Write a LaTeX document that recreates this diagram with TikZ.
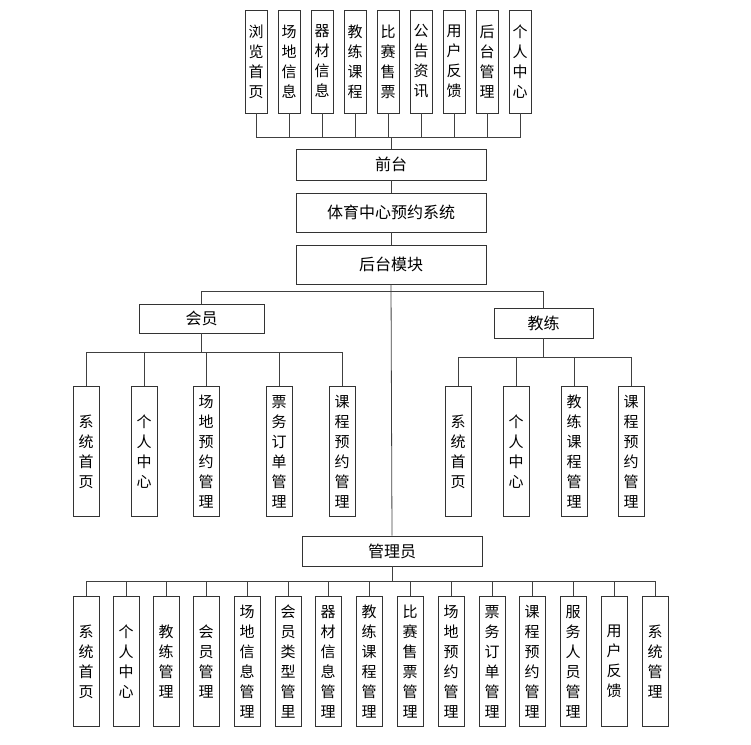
\documentclass[tikz,border=0pt]{standalone}
\usepackage{fontspec}
\newfontfamily\cjk{Noto Sans CJK SC}

\tikzset{
  colbox/.style={draw=black!80, line width=0.9pt, minimum width=26, minimum height=130,
    inner sep=0pt, align=center, font=\cjk\fontsize{15}{20}\selectfont},
  topbox/.style={colbox, minimum width=22, minimum height=103},
  rowbox/.style={draw=black!80, line width=0.9pt, inner sep=0pt,
    font=\cjk\fontsize{16}{20}\selectfont},
  link/.style={draw=black!75, line width=0.8pt}
}

\begin{document}
\begin{tikzpicture}[x=1pt, y=-1pt]
      \useasboundingbox (0,0) rectangle (751,744);

      % front modules
      \node[topbox] (T1) at (256,61.5) {浏\\览\\首\\页};
      \node[topbox] (T2) at (289,61.5) {场\\地\\信\\息};
      \node[topbox] (T3) at (322,61.5) {器\\材\\信\\息};
      \node[topbox] (T4) at (355,61.5) {教\\练\\课\\程};
      \node[topbox] (T5) at (388,61.5) {比\\赛\\售\\票};
      \node[topbox] (T6) at (421,61.5) {公\\告\\资\\讯};
      \node[topbox] (T7) at (454,61.5) {用\\户\\反\\馈};
      \node[topbox] (T8) at (487,61.5) {后\\台\\管\\理};
      \node[topbox] (T9) at (520,61.5) {个\\人\\中\\心};

      \node[rowbox, minimum width=190, minimum height=31] (F) at (391,164.5) {前台};
      \node[rowbox, minimum width=190, minimum height=39] (S) at (391,212.5) {体育中心预约系统};
      \node[rowbox, minimum width=190, minimum height=39] (B) at (391,264.5) {后台模块};

      % roles
      \node[rowbox, minimum width=125, minimum height=29] (M) at (201.5,318.5) {会员};
      \node[rowbox, minimum width=99, minimum height=30] (C) at (543.5,323) {教练};
      \node[rowbox, minimum width=180, minimum height=30] (A) at (392,551) {管理员};

      % member
      \node[colbox] (M1) at (86,451.5) {系\\统\\首\\页};
      \node[colbox] (M2) at (144,451.5) {个\\人\\中\\心};
      \node[colbox] (M3) at (206,451.5) {场\\地\\预\\约\\管\\理};
      \node[colbox] (M4) at (279,451.5) {票\\务\\订\\单\\管\\理};
      \node[colbox] (M5) at (342,451.5) {课\\程\\预\\约\\管\\理};

      % coach
      \node[colbox] (C1) at (458,451.5) {系\\统\\首\\页};
      \node[colbox] (C2) at (516,451.5) {个\\人\\中\\心};
      \node[colbox] (C3) at (574,451.5) {教\\练\\课\\程\\管\\理};
      \node[colbox] (C4) at (631,451.5) {课\\程\\预\\约\\管\\理};

      % admin
      \node[colbox] (A1) at (86,661.5) {系\\统\\首\\页};
      \node[colbox] (A2) at (126,661.5) {个\\人\\中\\心};
      \node[colbox] (A3) at (166,661.5) {教\\练\\管\\理};
      \node[colbox] (A4) at (206,661.5) {会\\员\\管\\理};
      \node[colbox] (A5) at (247,661.5) {场\\地\\信\\息\\管\\理};
      \node[colbox] (A6) at (288,661.5) {会\\员\\类\\型\\管\\里};
      \node[colbox] (A7) at (328,661.5) {器\\材\\信\\息\\管\\理};
      \node[colbox] (A8) at (369,661.5) {教\\练\\课\\程\\管\\理};
      \node[colbox] (A9) at (410,661.5) {比\\赛\\售\\票\\管\\理};
      \node[colbox] (A10) at (451,661.5) {场\\地\\预\\约\\管\\理};
      \node[colbox] (A11) at (492,661.5) {票\\务\\订\\单\\管\\理};
      \node[colbox] (A12) at (532,661.5) {课\\程\\预\\约\\管\\理};
      \node[colbox] (A13) at (573,661.5) {服\\务\\人\\员\\管\\理};
      \node[colbox] (A14) at (614,661.5) {用\\户\\反\\馈};
      \node[colbox] (A15) at (655,661.5) {系\\统\\管\\理};

      % bus points
      \coordinate (busT) at (391,137);
      \coordinate (busB) at (391,291);
      \coordinate (busM) at (201.5,352);
      \coordinate (busC) at (543.5,357);
      \coordinate (busA) at (392,581);

      \foreach \i in {1,...,9} \draw[link] (T\i.south) |- (busT) -- (F.north);
      \draw[link] (F.south) -- (S.north);
      \draw[link] (S.south) -- (B.north);
      \draw[link] (B.south) -- (A.north);
      \draw[link] (M.north) |- (busB);
      \draw[link] (C.north) |- (busB);

      \foreach \i in {1,...,5} \draw[link] (M\i.north) |- (busM) -- (M.south);
      \foreach \i in {1,...,4} \draw[link] (C\i.north) |- (busC) -- (C.south);
      \foreach \i in {1,...,15} \draw[link] (A\i.north) |- (busA) -- (A.south);
    \end{tikzpicture}
\end{document}
